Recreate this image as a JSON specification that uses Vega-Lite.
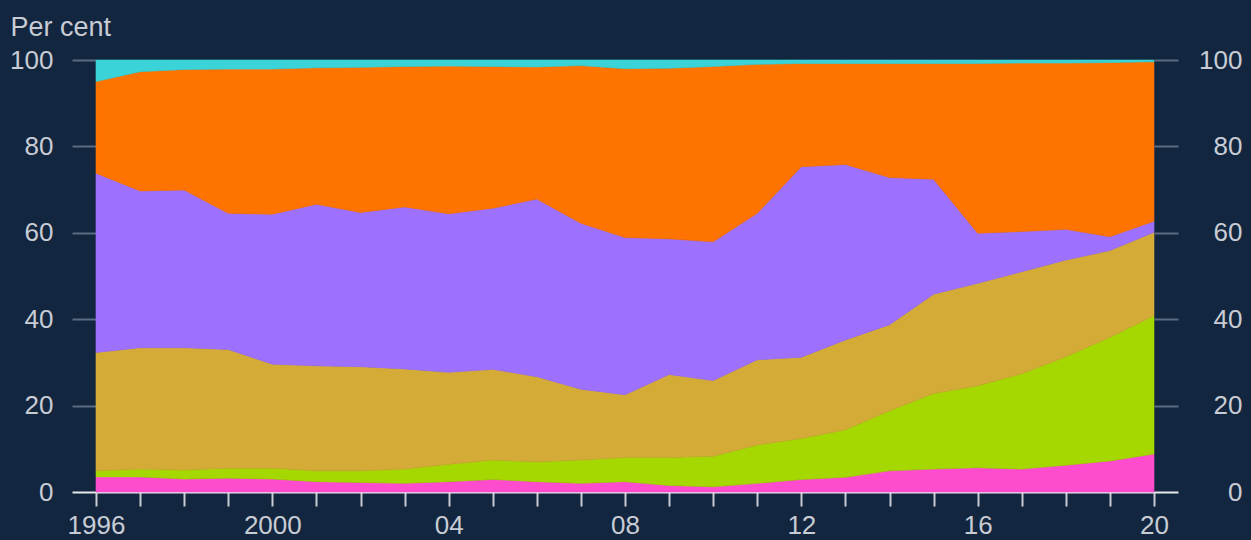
{
  "$schema": "https://vega.github.io/schema/vega-lite/v6.json",
  "width": 1058,
  "height": 432,
  "autosize": "none",
  "padding": {"left": 96, "top": 60, "right": 97, "bottom": 48},
  "background": "#13263f",
  "config": {"view": {"stroke": null}, "font": "Liberation Sans"},
  "data": {"values": [
    {"year": 1996, "s1": 3.5, "s2": 1.4, "s3": 27.4, "s4": 41.5, "s5": 21.2, "s6": 5.0},
    {"year": 1997, "s1": 3.5, "s2": 1.8, "s3": 28.1, "s4": 36.3, "s5": 27.6, "s6": 2.7},
    {"year": 1998, "s1": 3.0, "s2": 2.1, "s3": 28.3, "s4": 36.5, "s5": 27.9, "s6": 2.2},
    {"year": 1999, "s1": 3.2, "s2": 2.3, "s3": 27.5, "s4": 31.5, "s5": 33.4, "s6": 2.1},
    {"year": 2000, "s1": 3.0, "s2": 2.5, "s3": 24.1, "s4": 34.7, "s5": 33.6, "s6": 2.1},
    {"year": 2001, "s1": 2.4, "s2": 2.5, "s3": 24.3, "s4": 37.4, "s5": 31.6, "s6": 1.8},
    {"year": 2002, "s1": 2.2, "s2": 2.7, "s3": 24.1, "s4": 35.7, "s5": 33.6, "s6": 1.7},
    {"year": 2003, "s1": 2.0, "s2": 3.3, "s3": 23.2, "s4": 37.5, "s5": 32.5, "s6": 1.5},
    {"year": 2004, "s1": 2.4, "s2": 4.0, "s3": 21.3, "s4": 36.7, "s5": 34.2, "s6": 1.4},
    {"year": 2005, "s1": 2.9, "s2": 4.5, "s3": 21.0, "s4": 37.3, "s5": 32.8, "s6": 1.5},
    {"year": 2006, "s1": 2.4, "s2": 4.6, "s3": 19.7, "s4": 41.1, "s5": 30.6, "s6": 1.6},
    {"year": 2007, "s1": 2.0, "s2": 5.4, "s3": 16.4, "s4": 38.4, "s5": 36.5, "s6": 1.3},
    {"year": 2008, "s1": 2.4, "s2": 5.6, "s3": 14.5, "s4": 36.4, "s5": 39.1, "s6": 2.0},
    {"year": 2009, "s1": 1.5, "s2": 6.5, "s3": 19.2, "s4": 31.4, "s5": 39.5, "s6": 1.9},
    {"year": 2010, "s1": 1.2, "s2": 7.1, "s3": 17.5, "s4": 32.1, "s5": 40.6, "s6": 1.5},
    {"year": 2011, "s1": 2.0, "s2": 8.9, "s3": 19.7, "s4": 33.9, "s5": 34.5, "s6": 1.0},
    {"year": 2012, "s1": 2.9, "s2": 9.5, "s3": 18.8, "s4": 44.1, "s5": 23.9, "s6": 0.8},
    {"year": 2013, "s1": 3.4, "s2": 11.0, "s3": 20.8, "s4": 40.6, "s5": 23.4, "s6": 0.8},
    {"year": 2014, "s1": 4.9, "s2": 13.9, "s3": 19.9, "s4": 34.1, "s5": 26.4, "s6": 0.8},
    {"year": 2015, "s1": 5.3, "s2": 17.5, "s3": 23.0, "s4": 26.6, "s5": 26.8, "s6": 0.8},
    {"year": 2016, "s1": 5.6, "s2": 19.0, "s3": 23.7, "s4": 11.6, "s5": 39.3, "s6": 0.8},
    {"year": 2017, "s1": 5.3, "s2": 22.1, "s3": 23.6, "s4": 9.3, "s5": 39.0, "s6": 0.7},
    {"year": 2018, "s1": 6.2, "s2": 25.1, "s3": 22.4, "s4": 7.1, "s5": 38.5, "s6": 0.7},
    {"year": 2019, "s1": 7.2, "s2": 28.6, "s3": 20.1, "s4": 3.2, "s5": 40.3, "s6": 0.6},
    {"year": 2020, "s1": 8.8, "s2": 32.0, "s3": 19.3, "s4": 2.6, "s5": 36.9, "s6": 0.4}
  ]},
  "transform": [{"fold": ["s1", "s2", "s3", "s4", "s5", "s6"], "as": ["series", "value"]}],
  "encoding": {
    "x": {
      "field": "year", "type": "quantitative",
      "scale": {"domain": [1996, 2020], "nice": false, "zero": false},
      "axis": {
        "values": [1996,1997,1998,1999,2000,2001,2002,2003,2004,2005,2006,2007,2008,2009,2010,2011,2012,2013,2014,2015,2016,2017,2018,2019,2020],
        "labelExpr": "datum.value == 1996 || datum.value == 2000 ? toString(datum.value) : (datum.value % 4 == 0 ? slice(toString(datum.value), 2) : '')",
        "domain": true, "domainColor": "#e6e8ec", "domainWidth": 2,
        "ticks": true, "tickColor": "#c8ccd4", "tickSize": 14, "tickWidth": 2,
        "grid": false, "title": null,
        "labelFontSize": 26, "labelColor": "#c8ccd4", "labelPadding": 6,
        "labelFlush": false, "labelOverlap": false
      }
    },
    "color": {
      "field": "series", "type": "nominal",
      "scale": {"domain": ["s1", "s2", "s3", "s4", "s5", "s6"], "range": ["#ff4ccf", "#a5d700", "#d4ab37", "#9d71fe", "#ff7300", "#3ad3d8"]},
      "legend": null
    },
    "order": {"field": "series", "type": "ordinal", "sort": "ascending"}
  },
  "layer": [
    {
      "mark": {"type": "area", "interpolate": "linear", "strokeWidth": 0.6},
      "encoding": {
        "stroke": {"field": "series", "type": "nominal", "scale": {"domain": ["s1", "s2", "s3", "s4", "s5", "s6"], "range": ["#ff4ccf", "#a5d700", "#d4ab37", "#9d71fe", "#ff7300", "#3ad3d8"]}, "legend": null},
        "y": {
          "field": "value", "type": "quantitative", "stack": "zero",
          "scale": {"domain": [0, 100], "nice": false},
          "axis": {
            "orient": "left", "values": [0, 20, 40, 60, 80, 100],
            "domain": false, "grid": false,
            "tickSize": 24, "tickWidth": 2,
            "tickColor": {"condition": {"test": "datum.value == 0", "value": "#e6e8ec"}, "value": "#5b6b80"},
            "labelFontSize": 26, "labelColor": "#c8ccd4", "labelPadding": 19, "labelFlush": false,
            "title": "Per cent", "titleAngle": 0, "titleAlign": "left", "titleBaseline": "alphabetic",
            "titleX": -86, "titleY": -25, "titleFontSize": 27, "titleFontWeight": "normal", "titleColor": "#c8ccd4"
          }
        }
      }
    },
    {
      "mark": {"type": "area", "interpolate": "linear", "opacity": 0},
      "encoding": {
        "y": {
          "field": "value", "type": "quantitative", "stack": "zero",
          "scale": {"domain": [0, 100], "nice": false},
          "axis": {
            "orient": "right", "values": [0, 20, 40, 60, 80, 100],
            "domain": false, "grid": false,
            "tickSize": 24, "tickWidth": 2,
            "tickColor": {"condition": {"test": "datum.value == 0", "value": "#e6e8ec"}, "value": "#5b6b80"},
            "labelFontSize": 26, "labelColor": "#c8ccd4", "labelPadding": 64, "labelAlign": "right", "labelFlush": false,
            "title": null
          }
        }
      }
    }
  ],
  "resolve": {"axis": {"y": "independent"}}
}
